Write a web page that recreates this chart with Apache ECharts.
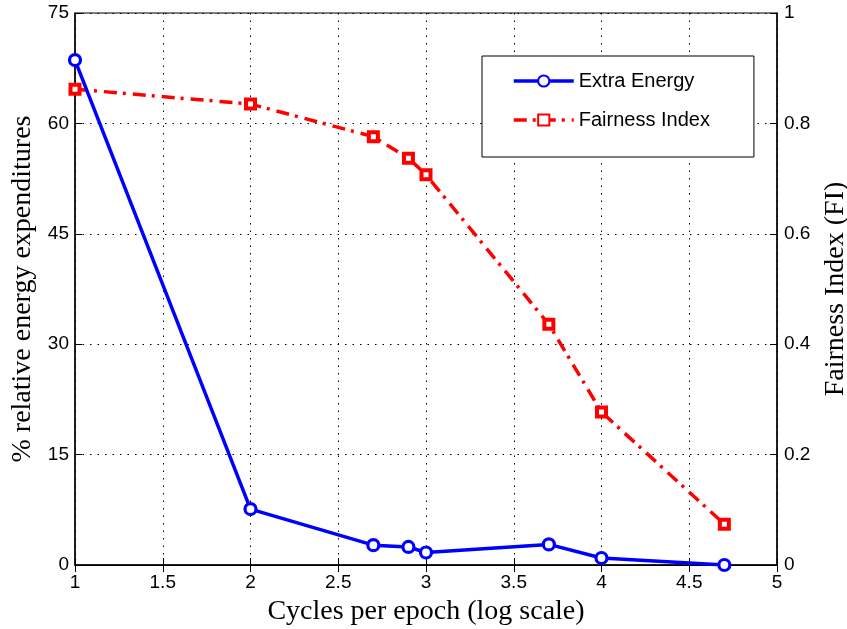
<!DOCTYPE html>
<html>
<head>
<meta charset="utf-8">
<script src="https://cdn.jsdelivr.net/npm/echarts@6/dist/echarts.min.js"></script>
<style>
html,body{margin:0;padding:0;background:#fff;}
#chart{width:847px;height:629px;}
</style>
</head>
<body>
<div id="chart"></div>
<script>
// Data
var cycles = [1, 2, 2.7, 2.9, 3, 3.7, 4, 4.7];
var extraEnergy = [68.6, 7.6, 2.7, 2.45, 1.7, 2.8, 0.95, 0];
var fairnessIndex = [0.862, 0.835, 0.776, 0.737, 0.707, 0.436, 0.277, 0.074];
var seriesNames = ['Extra Energy', 'Fairness Index'];
var xTitle = 'Cycles per epoch (log scale)';
var yLeftTitle = '% relative energy expenditures';
var yRightTitle = 'Fairness Index (FI)';

function pairs(xs, ys) {
  return xs.map(function (x, i) { return [x, ys[i]]; });
}

var tickFont = { fontFamily: 'Liberation Sans', fontSize: 19, color: '#000' };
var titleFont = { fontFamily: 'Liberation Serif', fontSize: 28, color: '#000' };
var gridLine = { show: true, lineStyle: { color: '#000', width: 1, type: [1.5, 6] } };

var chart = echarts.init(document.getElementById('chart'));
chart.setOption({
  animation: false,
  backgroundColor: '#fff',
  grid: { left: 75, right: 70, top: 13, bottom: 64, show: true, borderColor: '#000', borderWidth: 1,
          containLabel: false, outerBoundsMode: 'none' },
  legend: {
    orient: 'vertical',
    left: 482, top: 56,
    padding: [15, 44, 27, 30],
    itemWidth: 60, itemHeight: 14, itemGap: 19,
    borderColor: '#000', borderWidth: 1, backgroundColor: '#fff',
    textStyle: { fontFamily: 'Liberation Sans', fontSize: 20, color: '#000' },
    lineStyle: { width: 3.5 },
    data: seriesNames
  },
  xAxis: [{
    type: 'value', min: 1, max: 5, interval: 0.5,
    name: xTitle, nameLocation: 'middle', nameGap: 33, nameTextStyle: titleFont,
    axisLine: { show: true, lineStyle: { color: '#000', width: 1.5 } },
    axisTick: { show: true, inside: true, length: 7, lineStyle: { color: '#000', width: 1 } },
    axisLabel: Object.assign({ margin: 8 }, tickFont),
    splitLine: gridLine
  }, {
    type: 'value', min: 1, max: 5, interval: 0.5, position: 'top',
    axisLine: { show: true, lineStyle: { color: '#000', width: 1 } },
    axisTick: { show: true, inside: true, length: 7, lineStyle: { color: '#000', width: 1 } },
    axisLabel: { show: false },
    splitLine: { show: false }
  }],
  yAxis: [{
    type: 'value', min: 0, max: 75, interval: 15, position: 'left',
    name: yLeftTitle, nameLocation: 'middle', nameGap: 38, nameRotate: 90, nameTextStyle: titleFont,
    axisLine: { show: true, lineStyle: { color: '#000', width: 1.5 } },
    axisTick: { show: true, inside: true, length: 7, lineStyle: { color: '#000', width: 1 } },
    axisLabel: Object.assign({ margin: 6 }, tickFont),
    splitLine: gridLine
  }, {
    type: 'value', min: 0, max: 1, interval: 0.2, position: 'right',
    name: yRightTitle, nameLocation: 'middle', nameGap: 43, nameRotate: 90, nameTextStyle: titleFont,
    axisLine: { show: true, lineStyle: { color: '#000', width: 1.5 } },
    axisTick: { show: true, inside: true, length: 7, lineStyle: { color: '#000', width: 1 } },
    axisLabel: Object.assign({ margin: 7 }, tickFont),
    splitLine: { show: false }
  }],
  series: [{
    name: seriesNames[0],
    type: 'line',
    xAxisIndex: 0, yAxisIndex: 0,
    data: pairs(cycles, extraEnergy),
    symbol: 'circle', symbolSize: 11,
    lineStyle: { color: '#0000ff', width: 3.5 },
    itemStyle: { color: '#ffffff', borderColor: '#0000ff', borderWidth: 3.2 },
    z: 3
  }, {
    name: seriesNames[1],
    type: 'line',
    xAxisIndex: 0, yAxisIndex: 1,
    data: pairs(cycles, fairnessIndex),
    symbol: 'rect', symbolSize: 9,
    lineStyle: { color: '#ff0000', width: 3.5, type: [13, 6, 3, 7], cap: 'butt' },
    itemStyle: { color: '#ffffff', borderColor: '#ff0000', borderWidth: 4 },
    z: 2
  }]
});
</script>
</body>
</html>
